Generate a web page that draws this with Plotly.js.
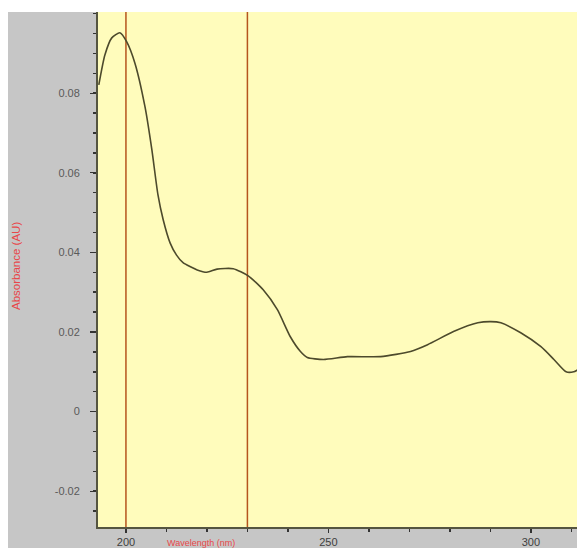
<!DOCTYPE html>
<html>
<head>
<meta charset="utf-8">
<script src="https://cdn.plot.ly/plotly-3.0.1.min.js"></script>
<style>
  html, body { margin: 0; padding: 0; background: #ffffff; width: 577px; height: 548px; overflow: hidden; }
  #chart { position: absolute; left: 8px; top: 12px; width: 569px; height: 536px; }
</style>
</head>
<body>
<div id="chart"></div>
<script>
// Spectrum: wavelength (nm) and absorbance (AU)
const wavelength = [193.3, 194.8, 196.5, 198.5, 200.2, 202.2, 204.7, 206.4, 207.9, 209.2, 210.9, 212.5, 214.1, 217.6, 220.0, 222.5, 226.5, 230.2, 233.9, 237.4, 240.6, 243.1, 244.8, 248.8, 254.7, 262.9, 270.3, 274.5, 280.9, 286.9, 290.1, 292.6, 297.5, 302.5, 305.7, 308.7, 310.6, 311.6];
const absorbance = [0.0821, 0.0896, 0.0939, 0.0952, 0.0929, 0.0876, 0.0766, 0.0658, 0.0545, 0.0482, 0.0424, 0.0393, 0.0374, 0.0356, 0.0350, 0.0358, 0.0359, 0.0341, 0.0306, 0.0256, 0.0188, 0.0151, 0.0136, 0.0131, 0.0138, 0.0138, 0.0151, 0.0168, 0.0201, 0.0223, 0.0226, 0.0223, 0.0198, 0.0163, 0.0131, 0.0100, 0.0100, 0.0105];

// Marker cursor lines (nm)
const cursorLines = [200, 230];

// Tick labels
const yTickVals = [-0.02, 0, 0.02, 0.04, 0.06, 0.08];
const yTickText = ['-0.02', '0', '0.02', '0.04', '0.06', '0.08'];
const xTickVals = [200, 250, 300];
const xTickText = ['200', '250', '300'];

const xTitle = 'Wavelength (nm)';
const yTitle = 'Absorbance (AU)';

const trace = {
  x: wavelength,
  y: absorbance,
  type: 'scatter',
  mode: 'lines',
  line: { color: '#4d4a2c', width: 1.6, shape: 'spline', smoothing: 0.6 },
  hoverinfo: 'skip'
};

const shapes = cursorLines.map(v => ({
  type: 'line', xref: 'x', yref: 'paper', x0: v, x1: v, y0: 0, y1: 1,
  line: { color: '#b5541e', width: 1.5 }, layer: 'below'
}));

const layout = {
  width: 569,
  height: 536,
  margin: { l: 90, r: 0, t: 0, b: 21, pad: 0 },
  paper_bgcolor: '#c6c6c6',
  plot_bgcolor: '#fffcbc',
  showlegend: false,
  font: { family: 'Liberation Sans, Arial, sans-serif', color: '#505050', size: 10 },
  xaxis: {
    range: [193.1, 311.4],
    tickvals: xTickVals,
    ticktext: xTickText,
    ticks: 'outside', ticklen: 4, tickwidth: 1.5, tickcolor: '#333333',
    tickfont: { size: 11, color: '#404040' },
    ticklabelstandoff: 0,
    showline: true, linecolor: '#555540', linewidth: 2,
    showgrid: false, zeroline: false,
    minor: { dtick: 10, tick0: 200, ticks: 'outside', ticklen: 3, tickwidth: 1.5, tickcolor: '#333333', showgrid: false }
  },
  yaxis: {
    range: [-0.029, 0.1004],
    tickvals: yTickVals,
    ticktext: yTickText,
    ticks: 'outside', ticklen: 6, tickwidth: 1.2, tickcolor: '#333333',
    tickfont: { size: 11, color: '#5a5a5a' },
    ticklabelstandoff: 8,
    showline: true, linecolor: '#555540', linewidth: 2,
    showgrid: false, zeroline: false,
    minor: { dtick: 0.005, tick0: 0, ticks: 'outside', ticklen: 3, tickwidth: 1.5, tickcolor: '#333333', showgrid: false }
  },
  shapes: shapes,
  annotations: [
    { text: xTitle, xref: 'paper', yref: 'paper', x: 0.215, y: -0.031, xanchor: 'center', yanchor: 'middle',
      showarrow: false, font: { size: 9, color: '#e8464a' } },
    { text: yTitle, xref: 'paper', yref: 'paper', x: -0.171, y: 0.507, xanchor: 'center', yanchor: 'middle',
      textangle: -90, showarrow: false, font: { size: 11.5, color: '#e8464a' } }
  ]
};

Plotly.newPlot('chart', [trace], layout, { displayModeBar: false, staticPlot: true });
</script>
</body>
</html>
